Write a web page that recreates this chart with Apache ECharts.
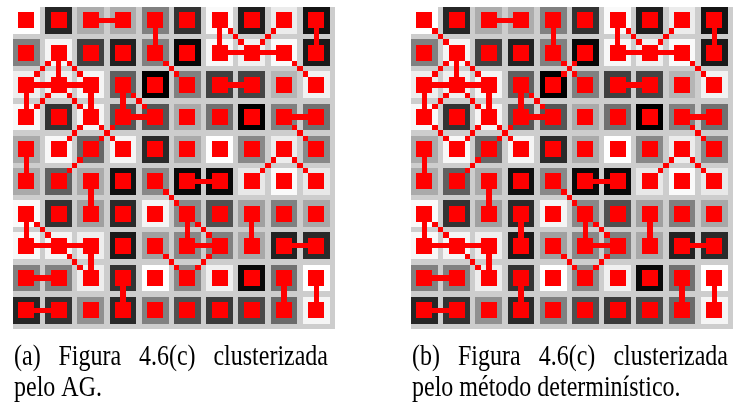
<!DOCTYPE html>
<html>
<head>
<meta charset="utf-8">
<script src="https://cdn.jsdelivr.net/npm/echarts@6/dist/echarts.min.js"></script>
<style>
  html, body { margin: 0; padding: 0; background: #ffffff; }
  #chart { width: 739px; height: 406px; }
</style>
</head>
<body>
<div id="chart"></div>
<script>
// Gray level of every cell of the 10x10 image (0 = black, 255 = white), top row first
const cellGray = [
  [255,  38, 172, 172, 128,  51, 250,  30, 236,  20],
  [128, 245,  64,  34, 128,   8, 248, 240, 250,  26],
  [238, 240, 245,  96,   0, 128,  64,  68, 181, 242],
  [248,  51, 245,  85,  85, 170, 112,   0, 128, 112],
  [170, 248, 102, 245,  42, 170, 255, 136, 236, 136],
  [170,  96, 170,  17, 136,  10,  10, 232, 250, 232],
  [250,  51, 160,  42, 245, 136,  80, 160, 128, 168],
  [248, 245, 238,  26, 160, 136, 128, 168,  34,  42],
  [128, 128, 238,  51, 255, 136, 240,  10, 112, 255],
  [ 38,  51, 144,  42, 128,  80,  58,  74, 106, 245]
];

// Links between cells of the same cluster: [row1, col1, row2, col2]
// straight links join horizontal / vertical neighbours
const straightLinksAG = [
  [0,2,0,3],[0,4,1,4],[0,6,1,6],[0,9,1,9],[1,1,2,1],[1,6,1,7],[1,7,1,8],
  [2,0,2,1],[2,1,2,2],[2,0,3,0],[2,2,3,2],[2,3,3,3],[2,6,2,7],[3,3,3,4],
  [3,8,3,9],[4,0,5,0],[5,2,6,2],[5,5,5,6],[6,0,7,0],[6,5,7,5],[6,7,7,7],
  [7,0,7,1],[7,1,7,2],[7,2,8,2],[7,5,7,6],[7,8,7,9],[8,0,8,1],[8,3,9,3],
  [8,8,9,8],[8,9,9,9],[9,0,9,1]
];
// diagonal links join corner neighbours
const diagonalLinksAG = [
  [1,1,2,0],[1,1,2,2],[1,4,2,5],[0,6,1,7],[0,8,1,7],[1,8,2,9],[2,1,3,0],
  [2,1,3,2],[2,3,3,4],[3,2,4,1],[3,2,4,3],[3,3,4,2],[3,8,4,9],[4,2,5,1],
  [4,8,5,7],[4,8,5,9],[5,4,6,5],[6,0,7,1],[6,5,7,6],[7,1,8,2],[7,4,8,5],
  [7,6,8,5]
];
const straightLinksDet = straightLinksAG.concat([[6,3,7,3]]);
const diagonalLinksDet = diagonalLinksAG.concat([[0,0,1,1],[1,5,2,4],[3,0,4,1]]);

const captionA = ['(a) Figura 4.6(c) clusterizada', 'pelo AG.'];
const captionB = ['(b) Figura 4.6(c) clusterizada', 'pelo método determinístico.'];

// ---- drawing ----
const PITCH = 6;   // bitmap pixels per cell (5 coloured + 1 gap)
const CELL = 5;
const RED = '#ff0000';
const SIDE = PITCH * 10;

function rectBetween(api, x0, y0, x1, y1, fill) {
  const a = api.coord([x0, y0]);
  const b = api.coord([x1, y1]);
  const l = Math.round(a[0]), t = Math.round(a[1]);
  return {
    type: 'rect',
    shape: { x: l, y: t, width: Math.round(b[0]) - l, height: Math.round(b[1]) - t },
    style: { fill: fill }
  };
}

function renderCell(params, api) {
  const c = api.value(0), r = api.value(1), g = api.value(2);
  const x = c * PITCH, y = r * PITCH;
  return rectBetween(api, x, y, x + CELL, y + CELL, 'rgb(' + g + ',' + g + ',' + g + ')');
}

function renderMarker(params, api) {
  const x = api.value(0) * PITCH, y = api.value(1) * PITCH;
  return rectBetween(api, x + 1, y + 1, x + 4, y + 4, RED);
}

function renderLink(params, api) {
  const c1 = api.value(0), r1 = api.value(1), c2 = api.value(2), r2 = api.value(3);
  const diag = api.value(4) === 1;
  const cx1 = c1 * PITCH + 2, cy1 = r1 * PITCH + 2;
  const cx2 = c2 * PITCH + 2, cy2 = r2 * PITCH + 2;
  const children = [];
  if (!diag) {
    children.push(rectBetween(api, Math.min(cx1, cx2), Math.min(cy1, cy2),
                              Math.max(cx1, cx2) + 1, Math.max(cy1, cy2) + 1, RED));
  } else {
    // staircase of single pixels between the two centres
    const dx = Math.sign(cx2 - cx1), dy = Math.sign(cy2 - cy1);
    const steps = Math.abs(cy2 - cy1);
    for (let k = 1; k < steps; k++) {
      const px = cx1 + k * dx, py = cy1 + k * dy;
      children.push(rectBetween(api, px, py, px + 1, py + 1, RED));
    }
  }
  return { type: 'group', children: children };
}

const cellData = [];
cellGray.forEach(function (row, r) {
  row.forEach(function (g, c) { cellData.push([c, r, g]); });
});

function linkData(straight, diagonal) {
  const out = [];
  straight.forEach(function (l) { out.push([l[1], l[0], l[3], l[2], 0]); });
  diagonal.forEach(function (l) { out.push([l[1], l[0], l[3], l[2], 1]); });
  return out;
}

function panelSeries(idx, straight, diagonal) {
  const base = { type: 'custom', xAxisIndex: idx, yAxisIndex: idx, silent: true, animation: false, clip: false };
  return [
    Object.assign({}, base, { renderItem: renderCell, data: cellData, z: 1 }),
    Object.assign({}, base, { renderItem: renderLink, data: linkData(straight, diagonal), z: 2 }),
    Object.assign({}, base, { renderItem: renderMarker, data: cellData, z: 3 })
  ];
}

// Captions: first line justified across the column width, type slightly tall
const FONT_SIZE = 24;
const FONT = FONT_SIZE + 'px "Liberation Serif"';
const TEXT_STRETCH_Y = 1.2;
const measureCtx = document.createElement('canvas').getContext('2d');
measureCtx.font = FONT;

function textEl(str, x, y) {
  return {
    type: 'text', x: x, y: y, scaleY: TEXT_STRETCH_Y, silent: true,
    style: { text: str, font: FONT, fill: '#000000', textAlign: 'left', align: 'left',
             textVerticalAlign: 'middle', verticalAlign: 'middle' }
  };
}

function justifiedLine(str, left, right, y) {
  const words = str.split(' ');
  const widths = words.map(function (w) { return measureCtx.measureText(w).width; });
  const total = widths.reduce(function (a, b) { return a + b; }, 0);
  const gap = (right - left - total) / (words.length - 1);
  const els = [];
  let x = left;
  words.forEach(function (w, i) { els.push(textEl(w, x, y)); x += widths[i] + gap; });
  return els;
}

const LINE1_Y = 357, LINE2_Y = 388;
const captionEls = []
  .concat(justifiedLine(captionA[0], 14, 328, LINE1_Y))
  .concat([textEl(captionA[1], 14, LINE2_Y)])
  .concat(justifiedLine(captionB[0], 412, 728, LINE1_Y))
  .concat([textEl(captionB[1], 412, LINE2_Y)]);

const axisBase = { type: 'value', min: 0, max: SIDE, show: false };
const option = {
  backgroundColor: '#ffffff',
  animation: false,
  grid: [
    { left: 13, top: 7, width: 322, height: 322, show: true, backgroundColor: '#cdcdcd', borderWidth: 0 },
    { left: 411, top: 7, width: 322, height: 322, show: true, backgroundColor: '#cdcdcd', borderWidth: 0 }
  ],
  xAxis: [
    Object.assign({ gridIndex: 0 }, axisBase),
    Object.assign({ gridIndex: 1 }, axisBase)
  ],
  yAxis: [
    Object.assign({ gridIndex: 0, inverse: true }, axisBase),
    Object.assign({ gridIndex: 1, inverse: true }, axisBase)
  ],
  graphic: captionEls,
  series: []
    .concat(panelSeries(0, straightLinksAG, diagonalLinksAG))
    .concat(panelSeries(1, straightLinksDet, diagonalLinksDet))
};

const chart = echarts.init(document.getElementById('chart'), null, { renderer: 'canvas' });
chart.setOption(option);
</script>
</body>
</html>
